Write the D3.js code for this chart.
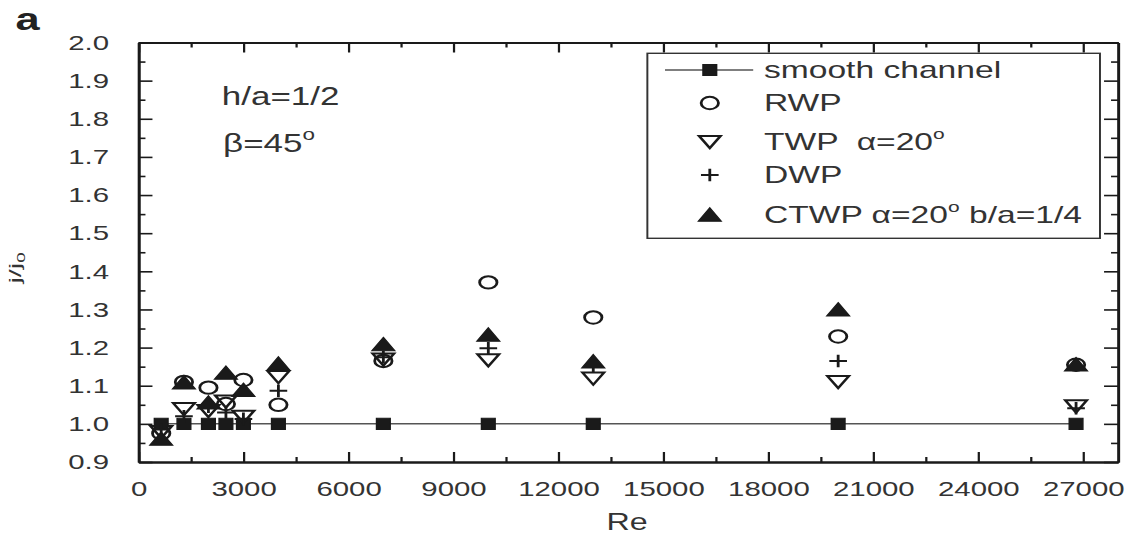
<!DOCTYPE html>
<html>
<head>
<meta charset="utf-8">
<script src="https://cdn.jsdelivr.net/npm/d3@7"></script>
<style>
  body { margin: 0; background: #fff; }
  svg { display: block; }
  text { font-family: "Liberation Sans", Arial, sans-serif; fill: #333; }
</style>
</head>
<body>
<svg id="chart" width="1141" height="537"></svg>
<script>
// Reynolds numbers where measurements were taken
var re = [650, 1300, 2000, 2500, 3000, 4000, 7000, 10000, 13000, 20000, 26800];
var smooth = [1.0, 1.0, 1.0, 1.0, 1.0, 1.0, 1.0, 1.0, 1.0, 1.0, 1.0];
var rwp = [0.975, 1.11, 1.095, 1.052, 1.115, 1.05, 1.165, 1.371, 1.279, 1.229, 1.155];
var twp = [0.98, 1.04, 1.035, 1.06, 1.02, 1.124, 1.17, 1.168, 1.12, 1.111, 1.047];
var dwp = [0.985, 1.02, 1.045, 1.03, 1.013, 1.087, 1.175, 1.198, 1.15, 1.165, 1.041];
var ctwp = [0.96, 1.108, 1.055, 1.133, 1.088, 1.157, 1.208, 1.233, 1.163, 1.299, 1.155];

var xMajor = [0, 3000, 6000, 9000, 12000, 15000, 18000, 21000, 24000, 27000];
var xMinor = [1500, 4500, 7500, 10500, 13500, 16500, 19500, 22500, 25500];
var yMajor = [0.9, 1.0, 1.1, 1.2, 1.3, 1.4, 1.5, 1.6, 1.7, 1.8, 1.9, 2.0];
var yMinor = [0.95, 1.05, 1.15, 1.25, 1.35, 1.45, 1.55, 1.65, 1.75, 1.85, 1.95];

// the original figure is stretched sideways, so everything is drawn in a squeezed space
var sx = 1.4;
var svg = d3.select("#chart");
var g = svg.append("g").attr("transform", "scale(" + sx + ",1)");

var pLeft = 98.9, pRight = 798.6, pTop = 42.5, pBottom = 462;

var x = d3.scaleLinear().domain([0, 28000]).range([pLeft, pRight]);
var y = d3.scaleLinear().domain([0.9, 2.0]).range([pBottom, pTop]);

var ink = "#1a1a1a";

function styleAxis(sel) {
    sel.select(".domain").attr("stroke", ink).attr("stroke-width", 1.9);
    sel.selectAll(".tick line").attr("stroke", ink).attr("stroke-width", 1.6);
    sel.selectAll(".tick text").attr("fill", "#333").style("font-size", "21px")
        .style("font-family", "'Liberation Sans', Arial, sans-serif");
}

// bottom axis
var xb = g.append("g").attr("transform", "translate(0," + pBottom + ")")
    .call(d3.axisBottom(x).tickValues(xMajor).tickSize(-10).tickSizeOuter(0).tickPadding(19).tickFormat(d3.format("d")));
styleAxis(xb);
var xbm = g.append("g").attr("transform", "translate(0," + pBottom + ")")
    .call(d3.axisBottom(x).tickValues(xMinor).tickSize(-5).tickSizeOuter(0).tickFormat(""));
styleAxis(xbm);
// top axis
var xt = g.append("g").attr("transform", "translate(0," + pTop + ")")
    .call(d3.axisTop(x).tickValues(xMajor).tickSize(-10).tickSizeOuter(0).tickFormat(""));
styleAxis(xt);
var xtm = g.append("g").attr("transform", "translate(0," + pTop + ")")
    .call(d3.axisTop(x).tickValues(xMinor).tickSize(-5).tickSizeOuter(0).tickFormat(""));
styleAxis(xtm);

// left axis
var yl = g.append("g").attr("transform", "translate(" + pLeft + ",0)")
    .call(d3.axisLeft(y).tickValues(yMajor).tickSize(-10).tickSizeOuter(0).tickPadding(21).tickFormat(d3.format(".1f")));
styleAxis(yl);
var ylm = g.append("g").attr("transform", "translate(" + pLeft + ",0)")
    .call(d3.axisLeft(y).tickValues(yMinor).tickSize(-5).tickSizeOuter(0).tickFormat(""));
styleAxis(ylm);
// right axis
var yr = g.append("g").attr("transform", "translate(" + pRight + ",0)")
    .call(d3.axisRight(y).tickValues(yMajor).tickSize(-10).tickSizeOuter(0).tickFormat(""));
styleAxis(yr);
var yrm = g.append("g").attr("transform", "translate(" + pRight + ",0)")
    .call(d3.axisRight(y).tickValues(yMinor).tickSize(-5).tickSizeOuter(0).tickFormat(""));
styleAxis(yrm);

// marker shapes
var shapes = {
    square: "M-4.9,-5.6H4.9V5.6H-4.9Z",
    circle: "M-6.2,0A6.2,6.2 0 1,0 6.2,0A6.2,6.2 0 1,0 -6.2,0Z",
    down: "M-7.7,-5.6L7.7,-5.6L0,6.6Z",
    plus: "M-6.3,0H6.3M0,-6.3V6.3",
    up: "M0,-7.2L8.2,6.2L-8.2,6.2Z"
};
function markers(vals, shape, filled) {
    g.append("g").selectAll("path").data(vals).enter().append("path")
        .attr("transform", function(d, i) { return "translate(" + x(re[i]) + "," + y(d) + ")"; })
        .attr("d", shapes[shape])
        .attr("fill", filled ? ink : "none")
        .attr("stroke", ink)
        .attr("stroke-width", filled ? 1 : 2);
}

// smooth channel line
var line = d3.line().x(function(d, i) { return x(re[i]); }).y(function(d) { return y(d); });
g.append("path").datum(smooth).attr("d", line)
    .attr("fill", "none").attr("stroke", "#555").attr("stroke-width", 1.5);

markers(smooth, "square", true);
markers(rwp, "circle", false);
markers(twp, "down", false);
markers(dwp, "plus", false);
markers(ctwp, "up", true);

// legend
var lg = g.append("g");
lg.append("rect").attr("x", 462.4).attr("y", 53.3).attr("width", 323.3).attr("height", 185)
    .attr("fill", "#fff").attr("stroke", "#333").attr("stroke-width", 1.4);
var legRows = [
    {label: "smooth channel", shape: "square", filled: true, y: 70},
    {label: "RWP", shape: "circle", filled: false, y: 103},
    {label: "TWP  \u03b1=20", shape: "down", filled: false, y: 141.5, deg: true},
    {label: "DWP", shape: "plus", filled: false, y: 175},
    {label: "CTWP \u03b1=20", shape: "up", filled: true, y: 215, deg: true, tail: " b/a=1/4"}
];
lg.append("line").attr("x1", 475).attr("x2", 538).attr("y1", 70).attr("y2", 70)
    .attr("stroke", "#555").attr("stroke-width", 1.5);
legRows.forEach(function(r) {
    lg.append("path").attr("transform", "translate(507," + r.y + ")")
        .attr("d", shapes[r.shape])
        .attr("fill", r.filled ? ink : "none").attr("stroke", ink)
        .attr("stroke-width", r.filled ? 1 : 2);
    var t = lg.append("text").attr("x", 545.7).attr("y", r.y + 8.5)
        .style("font-size", "24px").attr("xml:space", "preserve");
    t.append("tspan").text(r.label);
    if (r.deg) {
        t.append("tspan").attr("dy", -11).style("font-size", "15px").text("o");
        t.append("tspan").attr("dy", 11).text(r.tail || "");
    }
});

// annotations
g.append("text").attr("x", 158.4).attr("y", 105).style("font-size", "25px").text("h/a=1/2");
var b = g.append("text").attr("x", 159.3).attr("y", 152).style("font-size", "25px");
b.append("tspan").text("\u03b2=45");
b.append("tspan").attr("dy", -12).style("font-size", "16px").text("o");

// panel letter
g.append("text").attr("x", 11).attr("y", 30).style("font-size", "31px").style("font-weight", "bold")
    .style("fill", "#222").text("a");

// axis titles
g.append("text").attr("x", 447.9).attr("y", 530).attr("text-anchor", "middle")
    .style("font-size", "23px").text("Re");
// y title sits outside the squeezed group: it is long and thin in the original
var yt = svg.append("text").attr("transform", "translate(21,268) rotate(-90) scale(1.7,1)")
    .attr("text-anchor", "middle").style("font-size", "17px");
yt.append("tspan").text("j/j");
yt.append("tspan").attr("dy", 4).style("font-size", "11px").text("0");
</script>
</body>
</html>
